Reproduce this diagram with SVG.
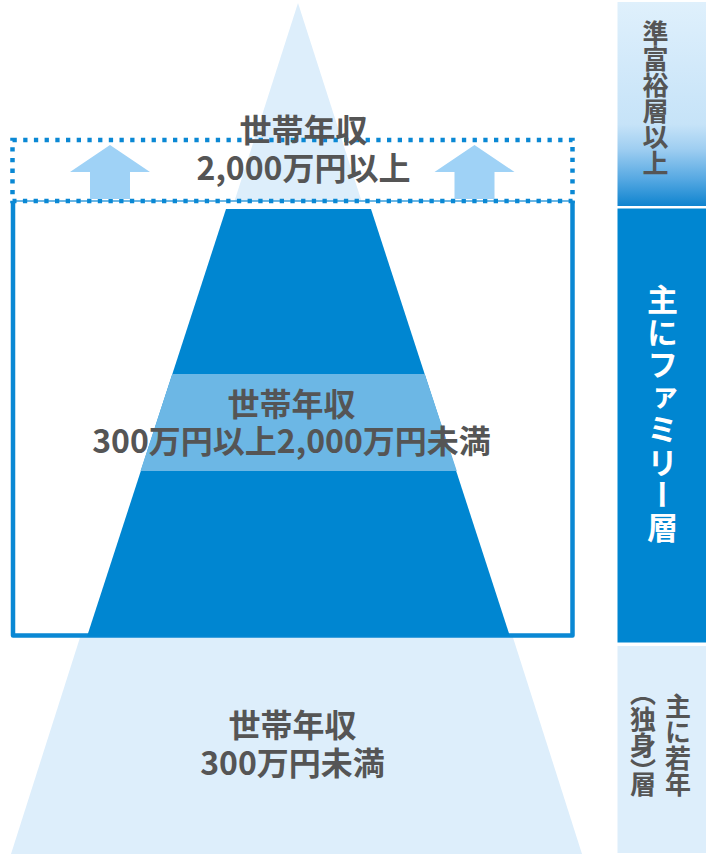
<svg xmlns="http://www.w3.org/2000/svg" width="707" height="854" viewBox="0 0 707 854">
  <defs>
    <linearGradient id="gTop" x1="0" y1="2" x2="0" y2="206" gradientUnits="userSpaceOnUse">
      <stop offset="0" stop-color="#dff0fc"/>
      <stop offset="0.6" stop-color="#c6e3f8"/>
      <stop offset="0.72" stop-color="#9fcef1"/>
      <stop offset="0.87" stop-color="#55a8e2"/>
      <stop offset="1" stop-color="#0f84cf"/>
    </linearGradient>
    <style>
      .lbl { font-family: "Noto Sans CJK JP", "Noto Sans", sans-serif; font-weight: 700; font-size: 32px; fill: #555555; text-anchor: middle; }
      .vt { font-family: "Noto Sans CJK JP", "Noto Sans", sans-serif; font-weight: 700; writing-mode: vertical-rl; text-anchor: middle; }
      .light { fill: #ddeefb; }
      .dark { fill: #0086d1; }
      .arrow { fill: #9fd2f6; }
    </style>
  </defs>
  <rect width="707" height="854" fill="#ffffff"/>

  <!-- pyramid -->
  <g id="pyramid-top">
    <polygon class="light" points="298,3 361.5,201 234.5,201"/>
  </g>
  <g id="pyramid-bottom">
    <polygon class="light" points="80.5,636 512.5,636 582,854 11,854"/>
    <text class="lbl" x="292.5" y="736.5">世帯年収<tspan x="292.5" dy="38.5">300万円未満</tspan></text>
  </g>
  <g id="frame">
    <rect x="13" y="201" width="559.5" height="434.5" fill="#ffffff"/>
    <path d="M13,201 V635.5 H572.5 V201" fill="none" stroke="#0a88d4" stroke-width="4.5" stroke-linejoin="round"/>
  </g>
  <g id="pyramid-middle">
    <polygon class="dark" points="226,209 371,209 510,636.5 87,636.5"/>
    <polygon fill="#6cb7e5" points="172.3,374 424.7,374 456.8,471 140.5,471"/>
    <text class="lbl" x="291.5" y="415.5">世帯年収<tspan x="291.5" dy="37.5">300万円以上2,000万円未満</tspan></text>
  </g>

  <!-- dotted top band -->
  <g id="top-band">
    <line x1="13" y1="201" x2="572.5" y2="201" stroke="#3a9fde" stroke-width="1.6"/>
    <rect x="12.5" y="140" width="560" height="61" fill="none" stroke="#0a88d4" stroke-width="4.5" stroke-dasharray="4.3 6.4"/>
    <polygon class="arrow" points="110,145 150,172 130,172 130,199 90,199 90,172 70,172"/>
    <polygon class="arrow" points="474.5,145 514.5,172 494.5,172 494.5,199 454.5,199 454.5,172 434.5,172"/>
    <text class="lbl" x="303.5" y="141.5">世帯年収<tspan x="303.5" dy="38.5">2,000万円以上</tspan></text>
  </g>

  <!-- right column -->
  <g id="col-top">
    <rect x="617.5" y="2" width="88.5" height="204" fill="url(#gTop)"/>
    <text class="vt" x="655.5" y="98.5" font-size="26" fill="#555555">準富裕層以上</text>
  </g>
  <g id="col-middle">
    <rect x="617.5" y="208.5" width="88.5" height="434" class="dark"/>
    <text class="vt" x="662.5" y="414" font-size="31" fill="#ffffff" letter-spacing="1.5">主にファミリー層</text>
  </g>
  <g id="col-bottom">
    <rect x="617.5" y="646" width="88.5" height="207" class="light"/>
    <text class="vt" x="678" y="745" font-size="26" fill="#555555">主に若年</text>
    <text class="vt" x="643" y="745.5" font-size="26" fill="#555555" style="font-feature-settings: 'vhal'">（独身）層</text>
  </g>
</svg>
